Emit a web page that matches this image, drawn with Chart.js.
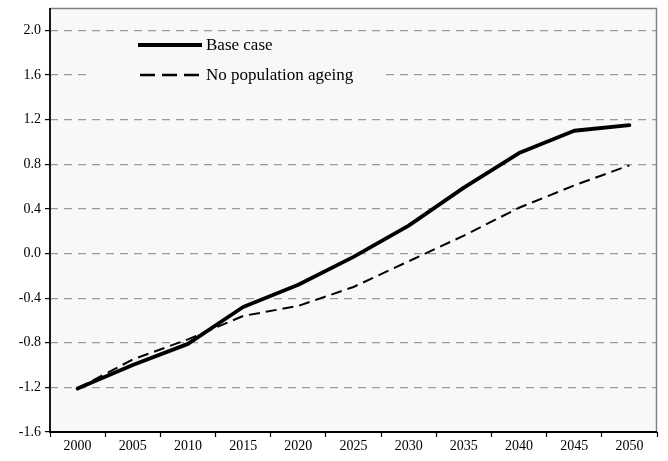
<!DOCTYPE html>
<html>
<head>
<meta charset="utf-8">
<script src="https://cdn.jsdelivr.net/npm/chart.js@4"></script>
<style>
html,body{margin:0;padding:0;background:#fff;}
#wrap{width:668px;height:461px;position:relative;}
</style>
</head>
<body>
<div id="wrap"><canvas id="c" width="668" height="461"></canvas></div>
<script>
const years = ['2000','2005','2010','2015','2020','2025','2030','2035','2040','2045','2050'];
const baseCase = [-1.21, -1.00, -0.81, -0.48, -0.28, -0.03, 0.25, 0.59, 0.90, 1.10, 1.15];
const noAgeing = [-1.21, -0.95, -0.77, -0.56, -0.47, -0.30, -0.07, 0.16, 0.41, 0.61, 0.79];
const yTicks = [-1.6, -1.2, -0.8, -0.4, 0.0, 0.4, 0.8, 1.2, 1.6, 2.0];
const legendLabels = ['Base case', 'No population ageing'];

const FONT = '"Liberation Serif", "Times New Roman", serif';

const framePlugin = {
  id: 'frame',
  beforeDraw(chart) {
    const {ctx, chartArea: a} = chart;
    ctx.save();
    ctx.fillStyle = '#f8f8f8';
    ctx.fillRect(a.left, a.top, a.right - a.left, a.bottom - a.top);
    ctx.restore();
  },
  beforeDatasetsDraw(chart) {
    const {ctx} = chart;
    ctx.save();
    ctx.fillStyle = '#f8f8f8';
    ctx.fillRect(87, 34, 293, 55);
    ctx.restore();
  },
  afterDatasetsDraw(chart) {
    const {ctx, chartArea: a} = chart;
    ctx.save();
    ctx.strokeStyle = '#808080';
    ctx.lineWidth = 1.5;
    ctx.beginPath();
    ctx.moveTo(a.left, a.top + 0.5);
    ctx.lineTo(a.right - 0.5, a.top + 0.5);
    ctx.lineTo(a.right - 0.5, a.bottom);
    ctx.stroke();
    ctx.strokeStyle = '#000';
    ctx.lineWidth = 1.8;
    ctx.beginPath();
    ctx.moveTo(a.left, a.top);
    ctx.lineTo(a.left, a.bottom);
    ctx.lineTo(a.right, a.bottom);
    ctx.stroke();
    // legend
    ctx.strokeStyle = '#000';
    ctx.lineWidth = 3.8;
    ctx.setLineDash([]);
    ctx.beginPath();
    ctx.moveTo(138, 45); ctx.lineTo(202, 45);
    ctx.stroke();
    ctx.lineWidth = 2.4;
    ctx.setLineDash([15, 7]);
    ctx.beginPath();
    ctx.moveTo(140, 75); ctx.lineTo(200, 75);
    ctx.stroke();
    ctx.setLineDash([]);
    ctx.fillStyle = '#000';
    ctx.font = '17px ' + FONT;
    ctx.textBaseline = 'middle';
    ctx.textAlign = 'left';
    ctx.fillText(legendLabels[0], 206, 46);
    ctx.fillText(legendLabels[1], 206, 76);
    ctx.restore();
  }
};

new Chart(document.getElementById('c'), {
  type: 'line',
  data: {
    labels: years,
    datasets: [
      {
        label: legendLabels[0],
        data: baseCase,
        borderColor: '#000',
        borderWidth: 3.8,
        pointRadius: 0,
        tension: 0,
        borderCapStyle: 'round',
        borderJoinStyle: 'round',
        fill: false
      },
      {
        label: legendLabels[1],
        data: noAgeing,
        borderColor: '#000',
        borderWidth: 2,
        borderDash: [11, 6],
        pointRadius: 0,
        tension: 0,
        fill: false
      }
    ]
  },
  options: {
    responsive: false,
    animation: false,
    layout: {padding: {left: 0, right: 11, top: 8, bottom: 0}},
    plugins: {legend: {display: false}, tooltip: {enabled: false}},
    scales: {
      x: {
        offset: true,
        grid: {
          offset: true,
          drawOnChartArea: false,
          drawTicks: true,
          tickLength: 5,
          color: '#000',
          tickColor: '#000',
          tickWidth: 1.2
        },
        border: {display: false},
        ticks: {
          color: '#000',
          font: {family: FONT, size: 14},
          padding: 1,
          maxRotation: 0,
          autoSkip: false
        },
        afterFit(scale) { scale.height = 29; scale.paddingLeft = 0; scale.paddingRight = 0; }
      },
      y: {
        min: -1.6,
        max: 2.2,
        afterBuildTicks(scale) {
          scale.ticks = yTicks.map(v => ({value: v}));
        },
        grid: {
          drawTicks: true,
          tickLength: 5,
          color: '#9a9a9a',
          tickColor: '#000',
          lineWidth: 1.2,
          tickWidth: 1.2,
          tickBorderDash: [0, 0]
        },
        border: {display: false, dash: [8, 6]},
        ticks: {
          color: '#000',
          font: {family: FONT, size: 14},
          padding: 4,
          callback: v => Number(v).toFixed(1)
        },
        afterFit(scale) { scale.width = 50; scale.paddingTop = 0; scale.paddingBottom = 0; }
      }
    }
  },
  plugins: [framePlugin]
});
</script>
</body>
</html>
